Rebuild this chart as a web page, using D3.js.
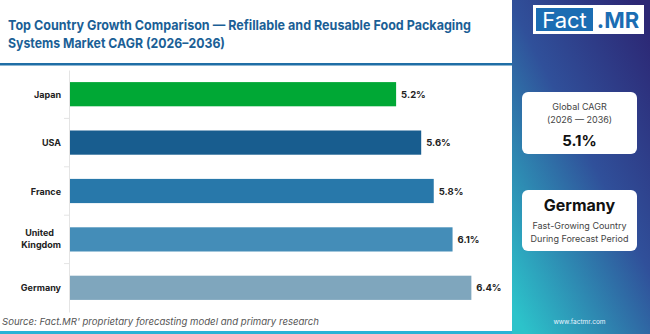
<!DOCTYPE html>
<html>
<head>
<meta charset="utf-8">
<script src="https://cdn.jsdelivr.net/npm/d3@7"></script>
<style>
  body { margin: 0; background: #fff; }
  svg { display: block; font-family: Inter, "Open Sans", sans-serif; }
</style>
</head>
<body>
<script>
// chart data
const countries = ["Japan", "USA", "France", "United Kingdom", "Germany"];
const cagr = [5.2, 5.6, 5.8, 6.1, 6.4];
const barColors = ["#00a835", "#185d8f", "#2878aa", "#448db8", "#7fa6bd"];
const globalCagr = "5.1%";
const topCountry = "Germany";

const W = 650, H = 334;

const svg = d3.select("body").append("svg")
    .attr("width", W)
    .attr("height", H);

// right side panel
const defs = svg.append("defs");
const grad = defs.append("linearGradient")
    .attr("id", "panelGrad")
    .attr("x1", "0.9").attr("y1", "0")
    .attr("x2", "0.1").attr("y2", "1");
grad.append("stop").attr("offset", "0%").attr("stop-color", "#2c2774");
grad.append("stop").attr("offset", "45%").attr("stop-color", "#30509a");
grad.append("stop").attr("offset", "100%").attr("stop-color", "#2cc3ca");

svg.append("rect")
    .attr("x", 512).attr("y", 0)
    .attr("width", W - 512).attr("height", H)
    .attr("fill", "url(#panelGrad)");

// title
const title = svg.append("text")
    .attr("fill", "#1b5f96")
    .attr("font-size", 13.5)
    .attr("font-weight", 700);
title.append("tspan").attr("x", 8).attr("y", 30)
    .attr("textLength", 463).attr("lengthAdjust", "spacingAndGlyphs")
    .text("Top Country Growth Comparison \u2014 Refillable and Reusable Food Packaging");
title.append("tspan").attr("x", 8).attr("y", 48)
    .attr("textLength", 217).attr("lengthAdjust", "spacingAndGlyphs")
    .text("Systems Market CAGR (2026\u20132036)");

svg.append("rect")
    .attr("x", 0).attr("y", 63)
    .attr("width", 512).attr("height", 2.5)
    .attr("fill", "#1f6ea6");

// scales
const x = d3.scaleLinear().domain([0, 7]).range([70, 509]);
const y = d3.scaleBand().domain(countries).range([70, 312])
    .paddingInner(0.5).paddingOuter(0.25);

// axis
const yAxis = svg.append("g")
    .attr("transform", "translate(69,0)")
    .call(d3.axisLeft(y).tickSize(0).tickFormat(""));
yAxis.select(".domain").attr("stroke", "#e4e4e4");

// separator ticks between bands
svg.append("g").selectAll("line")
    .data(countries.slice(1))
    .join("line")
    .attr("x1", 64).attr("x2", 69)
    .attr("y1", d => y(d) - y.step() * y.paddingInner() / 2)
    .attr("y2", d => y(d) - y.step() * y.paddingInner() / 2)
    .attr("stroke", "#e4e4e4");

// bars
svg.append("g").selectAll("rect")
    .data(countries)
    .join("rect")
    .attr("x", x(0))
    .attr("y", d => y(d))
    .attr("width", (d, i) => x(cagr[i]) - x(0))
    .attr("height", y.bandwidth())
    .attr("fill", (d, i) => barColors[i]);

// value labels
svg.append("g").selectAll("text")
    .data(countries)
    .join("text")
    .attr("x", (d, i) => x(cagr[i]) + 5)
    .attr("y", d => y(d) + y.bandwidth() / 2 + 3.5)
    .attr("font-size", 9.5)
    .attr("font-weight", 700)
    .attr("fill", "#222")
    .text((d, i) => cagr[i].toFixed(1) + "%");

// country labels
const labels = svg.append("g").selectAll("text")
    .data(countries)
    .join("text")
    .attr("text-anchor", "end")
    .attr("font-size", 9)
    .attr("font-weight", 700)
    .attr("fill", "#222");
labels.each(function (d) {
    const t = d3.select(this);
    const cy = y(d) + y.bandwidth() / 2;
    if (d === "United Kingdom") {
        t.append("tspan").attr("x", 54).attr("y", cy - 3).text("United");
        t.append("tspan").attr("x", 61).attr("y", cy + 9).text("Kingdom");
    } else {
        t.append("tspan").attr("x", 61).attr("y", cy + 3.5).text(d);
    }
});

// source
svg.append("text")
    .attr("x", 2).attr("y", 325)
    .attr("font-size", 9.6)
    .attr("font-style", "italic")
    .attr("fill", "#555")
    .text("Source: Fact.MR' proprietary forecasting model and primary research");

svg.append("rect")
    .attr("x", 0).attr("y", 331)
    .attr("width", 512).attr("height", 3)
    .attr("fill", "#2ab3d6");

// logo
svg.append("rect").attr("x", 533).attr("y", 5).attr("width", 111).attr("height", 29).attr("fill", "#fff");
svg.append("rect").attr("x", 536).attr("y", 8).attr("width", 57).attr("height", 23).attr("fill", "#1b6db3");
svg.append("text").attr("x", 564.5).attr("y", 28).attr("text-anchor", "middle")
    .attr("font-size", 22).attr("fill", "#fff").text("Fact");
svg.append("text").attr("x", 618).attr("y", 28).attr("text-anchor", "middle")
    .attr("font-size", 22).attr("font-weight", 700).attr("fill", "#1b6db3").text(".MR");

// cards
function card(y0, h) {
    svg.append("rect")
        .attr("x", 522).attr("y", y0)
        .attr("width", 115).attr("height", h)
        .attr("rx", 6)
        .attr("fill", "#fff");
}
card(92, 62);
card(190, 61);

const cx = 579.5;
svg.append("text").attr("x", cx).attr("y", 110).attr("text-anchor", "middle")
    .attr("font-size", 9).attr("fill", "#444").text("Global CAGR");
svg.append("text").attr("x", cx).attr("y", 123).attr("text-anchor", "middle")
    .attr("font-size", 9).attr("fill", "#444").text("(2026 \u2014 2036)");
svg.append("text").attr("x", cx).attr("y", 146).attr("text-anchor", "middle")
    .attr("font-size", 15).attr("font-weight", 700).attr("fill", "#111").text(globalCagr);

svg.append("text").attr("x", cx).attr("y", 211).attr("text-anchor", "middle")
    .attr("font-size", 16).attr("font-weight", 700).attr("fill", "#111").text(topCountry);
svg.append("text").attr("x", cx).attr("y", 229).attr("text-anchor", "middle")
    .attr("font-size", 9).attr("fill", "#444").text("Fast-Growing Country");
svg.append("text").attr("x", cx).attr("y", 242).attr("text-anchor", "middle")
    .attr("font-size", 9).attr("fill", "#444").text("During Forecast Period");

svg.append("text").attr("x", cx).attr("y", 324).attr("text-anchor", "middle")
    .attr("font-size", 6.5).attr("fill", "#e8f4ff").text("www.factmr.com");
</script>
</body>
</html>
